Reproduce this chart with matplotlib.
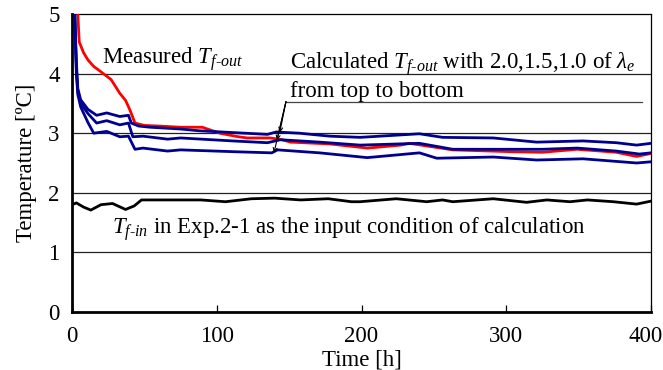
import matplotlib
matplotlib.use("Agg")
import matplotlib.pyplot as plt
from matplotlib.transforms import ScaledTranslation

# measured outlet temperature
red_t = [3, 4, 5, 8, 11, 15, 20, 27, 33, 37, 40, 43.5, 50, 60, 75, 90, 102, 115, 121, 137, 145, 151, 178, 204, 227, 233, 263, 303, 325, 349, 376, 390, 400]
red_T = [5.3, 5.0, 4.53, 4.35, 4.23, 4.12, 4.03, 3.90, 3.67, 3.55, 3.39, 3.17, 3.13, 3.12, 3.10, 3.10, 3.00, 2.94, 2.92, 2.92, 2.89, 2.85, 2.82, 2.75, 2.80, 2.83, 2.72, 2.69, 2.68, 2.73, 2.68, 2.61, 2.66]

# calculated outlet temperature, lambda_e = 2.0 / 1.5 / 1.0
top_t = [1.5, 3, 4, 6, 11, 17, 24, 33, 39, 41, 46, 54, 75, 88, 135, 141, 157, 178, 199, 240, 256, 291, 321, 353, 376, 390, 400]
top_T = [5.3, 4.2, 3.75, 3.56, 3.40, 3.30, 3.34, 3.28, 3.30, 3.17, 3.12, 3.10, 3.07, 3.04, 2.98, 3.02, 3.00, 2.95, 2.93, 2.99, 2.93, 2.92, 2.85, 2.87, 2.84, 2.80, 2.83]

mid_t = [1.5, 3, 4, 6, 11, 17, 24, 33, 39, 42, 49, 66, 75, 111, 135, 144, 171, 199, 240, 263, 303, 325, 349, 376, 392, 400]
mid_T = [5.3, 4.1, 3.70, 3.50, 3.33, 3.17, 3.21, 3.14, 3.17, 2.94, 2.95, 2.90, 2.92, 2.87, 2.84, 2.89, 2.85, 2.80, 2.83, 2.73, 2.73, 2.73, 2.75, 2.70, 2.65, 2.67]

bot_t = [1.5, 3, 4, 6, 11, 15, 24, 33, 39, 43.5, 49, 66, 75, 111, 138, 142, 171, 204, 240, 252, 291, 321, 353, 390, 400]
bot_T = [5.3, 4.0, 3.65, 3.44, 3.18, 3.00, 3.03, 2.94, 2.95, 2.73, 2.75, 2.70, 2.72, 2.69, 2.67, 2.72, 2.67, 2.59, 2.67, 2.58, 2.60, 2.55, 2.57, 2.50, 2.52]

# inlet temperature (input condition)
in_t = [0, 3, 8, 13, 20, 28, 37, 43, 48, 66, 89, 106, 124, 140, 158, 177, 193, 199, 224, 245, 256, 263, 291, 314, 328, 344, 356, 374, 390, 400]
in_T = [1.80, 1.83, 1.76, 1.71, 1.80, 1.82, 1.72, 1.78, 1.88, 1.88, 1.88, 1.85, 1.90, 1.91, 1.88, 1.90, 1.85, 1.85, 1.90, 1.85, 1.88, 1.85, 1.90, 1.84, 1.88, 1.85, 1.88, 1.85, 1.81, 1.86]

plt.rcParams["font.family"] = ["Liberation Serif", "DejaVu Serif"]
plt.rcParams["mathtext.fontset"] = "custom"
plt.rcParams["mathtext.rm"] = "Liberation Serif"
plt.rcParams["mathtext.it"] = "Liberation Serif:italic"

FS = 16.5
BLUE = "#000090"

fig = plt.figure(figsize=(6.63, 3.70), dpi=100)
ax = fig.add_axes([0.1086, 0.1568, 0.8734, 0.8054])

for y in [1, 2, 3, 4]:
    ax.axhline(y, color="#222222", lw=0.9, zorder=1)

ax.plot(in_t, in_T, color="black", lw=2.0, zorder=3)
ax.plot(red_t, red_T, color="#FF0000", lw=2.0, zorder=3)
for t, T in [(top_t, top_T), (mid_t, mid_T), (bot_t, bot_T)]:
    ax.plot(t, T, color=BLUE, lw=2.0, zorder=4)

ax.set_xlim(0, 400)
ax.set_ylim(0, 5)
ax.set_xticks([0, 100, 200, 300, 400])
ax.set_yticks([0, 1, 2, 3, 4, 5])
ax.tick_params(axis="x", direction="in", length=5, width=0.9, labelsize=FS, pad=10)
ax.tick_params(axis="y", length=0, labelsize=FS, pad=9)
for side in ["left", "bottom"]:
    ax.spines[side].set_linewidth(2.0)
for side in ["top", "right"]:
    ax.spines[side].set_linewidth(0.9)

# nudge the last x label so it stays inside the canvas
last = ax.get_xticklabels()[-1]
last.set_transform(last.get_transform() + ScaledTranslation(-0.05, 0, fig.dpi_scale_trans))

ax.set_xlabel("Time [h]", fontsize=FS, labelpad=2)
ax.set_ylabel("Temperature [ºC]", fontsize=FS, labelpad=8)

ax.text(20.5, 4.17, r"Measured $T_{f\text{-}out}$", fontsize=FS, va="baseline")
ax.text(150.5, 4.09, r"Calculated $T_{f\text{-}out}$ with 2.0,1.5,1.0 of $\lambda_e$",
        fontsize=FS, va="baseline")
ax.text(150.5, 3.61, "from top to bottom", fontsize=FS, va="baseline")
ax.text(27.5, 1.31, r"$T_{f\text{-}in}$ in Exp.2-1 as the input condition of calculation",
        fontsize=FS, va="baseline")

# leader line pointing to the three calculated curves
ax.plot([147.8, 393.8], [3.53, 3.53], color="#444444", lw=0.9, zorder=2)
for xe, ye in [(143.5, 3.01), (141.6, 2.88), (139.5, 2.67)]:
    ax.annotate("", xy=(xe, ye), xytext=(147.8, 3.53),
                arrowprops=dict(arrowstyle="->", lw=0.8, color="black",
                                shrinkA=0, shrinkB=0, mutation_scale=7),
                zorder=5)

fig.savefig("out.png", dpi=100)
